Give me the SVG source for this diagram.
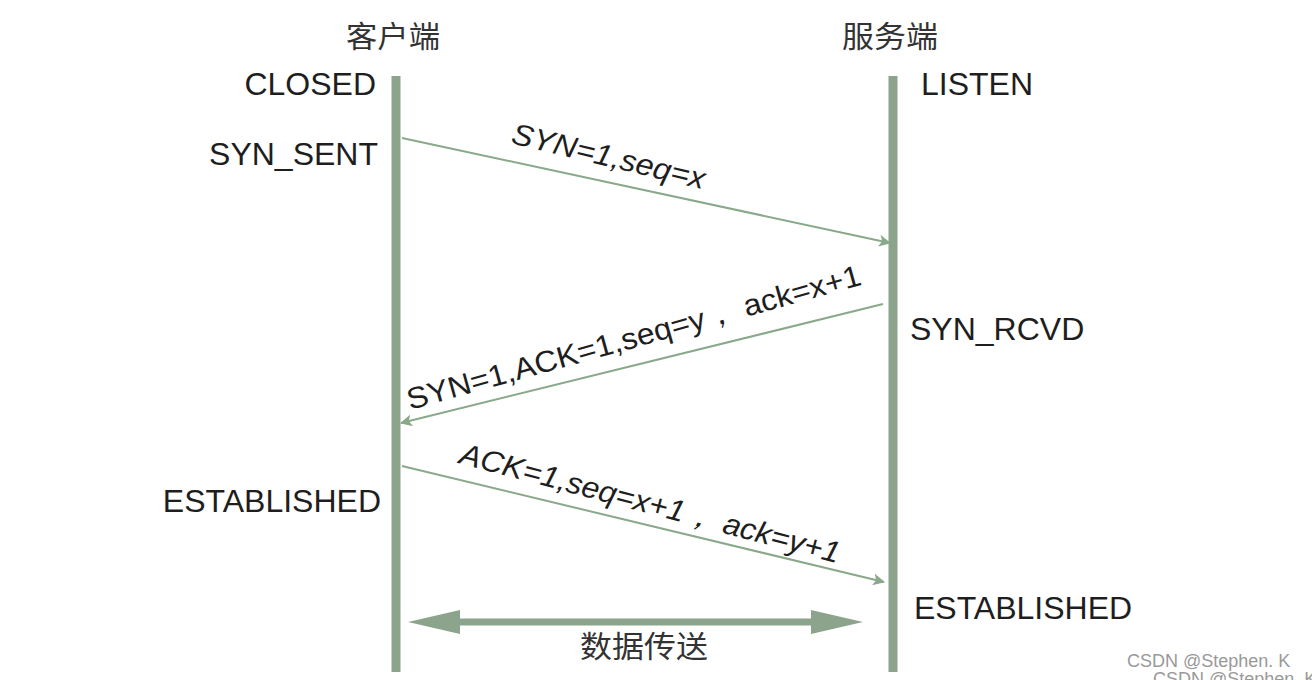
<svg xmlns="http://www.w3.org/2000/svg" width="1312" height="680" viewBox="0 0 1312 680">
<style>
.t{font-family:"Liberation Sans",Arial,sans-serif;font-size:32px;fill:#1e1e1e}
.cjk{font-family:"Noto Sans CJK SC","Liberation Sans",sans-serif;font-size:30px;fill:#333}
.lab{font-family:"Liberation Sans",Arial,sans-serif;font-size:30px;fill:#1e1e1e}
.life{stroke:#8ba48b;stroke-width:9}
.msg{stroke:#8aa88a;stroke-width:2;fill:none}
.wm{font-family:"Liberation Sans",Arial,sans-serif;font-size:18px;fill:#999}
</style>
<defs>
<marker id="ah" viewBox="0 0 12 12" refX="11" refY="6" markerWidth="12" markerHeight="12" markerUnits="userSpaceOnUse" orient="auto">
<path d="M0,0 L12,6 L0,12 L3,6 Z" fill="#8aa88a"/>
</marker>
</defs>
<rect width="1312" height="680" fill="#fff"/>
<g id="client">
<text class="cjk" x="393" y="47" text-anchor="middle" textLength="94" lengthAdjust="spacingAndGlyphs">客户端</text>
<line class="life" x1="396" y1="76" x2="396" y2="672"/>
<text class="t" x="376" y="95" text-anchor="end">CLOSED</text>
<text class="t" x="378" y="165" text-anchor="end">SYN_SENT</text>
<text class="t" x="381" y="512" text-anchor="end">ESTABLISHED</text>
</g>
<g id="server">
<text class="cjk" x="890" y="47" text-anchor="middle" textLength="96" lengthAdjust="spacingAndGlyphs">服务端</text>
<line class="life" x1="893" y1="76" x2="893" y2="672"/>
<text class="t" x="921" y="95">LISTEN</text>
<text class="t" x="910" y="340">SYN_RCVD</text>
<text class="t" x="914" y="619">ESTABLISHED</text>
</g>
<g id="connectors">
<line class="msg" x1="402" y1="138" x2="890" y2="243" marker-end="url(#ah)"/>
<line class="msg" x1="883" y1="304" x2="401" y2="423" marker-end="url(#ah)"/>
<line class="msg" x1="402" y1="466" x2="884" y2="582" marker-end="url(#ah)"/>
<g id="data">
<line x1="450" y1="622" x2="820" y2="622" stroke="#8ba48b" stroke-width="7"/>
<polygon points="408,622 460,610 460,634" fill="#8ba48b"/>
<polygon points="863,622 811,610 811,634" fill="#8ba48b"/>
</g>
</g>
<g id="labels">
<text class="lab" font-style="italic" transform="translate(510,143) rotate(13.5)" textLength="198" lengthAdjust="spacingAndGlyphs">SYN=1,seq=x</text>
<text class="lab" transform="translate(410,410) rotate(-15.5)" textLength="470" lengthAdjust="spacingAndGlyphs">SYN=1,ACK=1,seq=y， ack=x+1</text>
<text class="lab" font-style="italic" transform="translate(458,463) rotate(14.8)" textLength="392" lengthAdjust="spacingAndGlyphs">ACK=1,seq=x+1， ack=y+1</text>
<text class="cjk" x="644" y="657" text-anchor="middle" textLength="128" lengthAdjust="spacingAndGlyphs" font-size="32">数据传送</text>
</g>
<g id="watermark">
<text class="wm" x="1127" y="667">CSDN @Stephen. K</text>
<text class="wm" x="1153" y="685">CSDN @Stephen. K</text>
</g>
</svg>
